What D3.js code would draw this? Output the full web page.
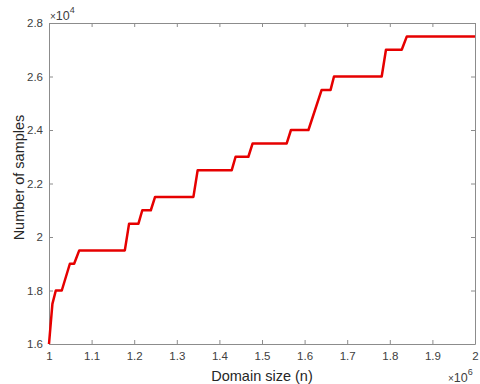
<!DOCTYPE html>
<html>
<head>
<meta charset="utf-8">
<script src="https://cdn.jsdelivr.net/npm/d3@7"></script>
<style>
  body { margin: 0; background: #fff; }
  svg { font-family: "Liberation Sans", Arial, sans-serif; }
</style>
</head>
<body>
<div id="chart"></div>
<script>
// domain size (n) vs number of samples
const domainSize = [1.000e6, 1.008e6, 1.016e6, 1.030e6, 1.049e6, 1.059e6, 1.071e6, 1.178e6, 1.188e6, 1.210e6,
  1.219e6, 1.239e6, 1.249e6, 1.339e6, 1.349e6, 1.429e6, 1.438e6, 1.468e6, 1.478e6, 1.558e6,
  1.568e6, 1.609e6, 1.640e6, 1.661e6, 1.669e6, 1.781e6, 1.791e6, 1.828e6, 1.840e6, 2.000e6];
const samples = [16000, 17500, 18000, 18000, 19000, 19000, 19500, 19500, 20500, 20500,
  21000, 21000, 21500, 21500, 22500, 22500, 23000, 23000, 23500, 23500,
  24000, 24000, 25500, 25500, 26000, 26000, 27000, 27000, 27500, 27500];
const xTicks = [1.0e6, 1.1e6, 1.2e6, 1.3e6, 1.4e6, 1.5e6, 1.6e6, 1.7e6, 1.8e6, 1.9e6, 2.0e6];
const yTicks = [16000, 18000, 20000, 22000, 24000, 26000, 28000];

const width = 480, height = 384;
const margin = { top: 23, right: 5, bottom: 40, left: 49 };

const svg = d3.select("#chart").append("svg")
  .attr("width", width)
  .attr("height", height);

const x = d3.scaleLinear().domain([1e6, 2e6]).range([margin.left, width - margin.right]);
const y = d3.scaleLinear().domain([16000, 28000]).range([height - margin.bottom, margin.top]);

const axisColor = "#8c8c8c";
const textColor = "#404040";
const tickLen = 4;

const fmtX = d => d3.format("")(+(d / 1e6).toFixed(1));
const fmtY = d => d3.format("")(+(d / 1e4).toFixed(1));

function styleAxis(g) {
  g.select(".domain").attr("stroke", axisColor);
  g.selectAll(".tick line").attr("stroke", axisColor);
  g.selectAll(".tick text").attr("fill", textColor).attr("font-size", 11.5);
}

// bottom + top
svg.append("g")
  .attr("transform", `translate(0,${y.range()[0]})`)
  .call(d3.axisBottom(x).tickValues(xTicks).tickFormat(fmtX).tickSizeInner(-tickLen).tickSizeOuter(0).tickPadding(8))
  .call(styleAxis);
svg.append("g")
  .attr("transform", `translate(0,${y.range()[1]})`)
  .call(d3.axisTop(x).tickValues(xTicks).tickFormat("").tickSizeInner(-tickLen).tickSizeOuter(0))
  .call(styleAxis);
// left + right
svg.append("g")
  .attr("transform", `translate(${x.range()[0]},0)`)
  .call(d3.axisLeft(y).tickValues(yTicks).tickFormat(fmtY).tickSizeInner(-tickLen).tickSizeOuter(0).tickPadding(6))
  .call(styleAxis);
svg.append("g")
  .attr("transform", `translate(${x.range()[1]},0)`)
  .call(d3.axisRight(y).tickValues(yTicks).tickFormat("").tickSizeInner(-tickLen).tickSizeOuter(0))
  .call(styleAxis);

// line
const line = d3.line()
  .x((d, i) => x(domainSize[i]))
  .y(d => y(d));

svg.append("path")
  .datum(samples)
  .attr("fill", "none")
  .attr("stroke", "#e60000")
  .attr("stroke-width", 2.5)
  .attr("stroke-linejoin", "round")
  .attr("d", line);

// exponents
function exponent(px, py, e) {
  const t = svg.append("text")
    .attr("x", px).attr("y", py)
    .attr("fill", textColor);
  t.append("tspan").attr("font-size", 10).text("\u00d7");
  t.append("tspan").attr("font-size", 12.5).text("10");
  t.append("tspan").attr("font-size", 9).attr("dy", -7).text(e);
}
exponent(50, 20, "4");
exponent(448, 382, "6");

// axis labels
svg.append("text")
  .attr("x", (x.range()[0] + x.range()[1]) / 2)
  .attr("y", 381)
  .attr("text-anchor", "middle")
  .attr("fill", "#262626").attr("font-size", 14.5)
  .text("Domain size (n)");
svg.append("text")
  .attr("transform", `translate(24,${(y.range()[0] + y.range()[1]) / 2 - 6}) rotate(-90)`)
  .attr("text-anchor", "middle")
  .attr("fill", "#262626").attr("font-size", 14.5)
  .text("Number of samples");
</script>
</body>
</html>
